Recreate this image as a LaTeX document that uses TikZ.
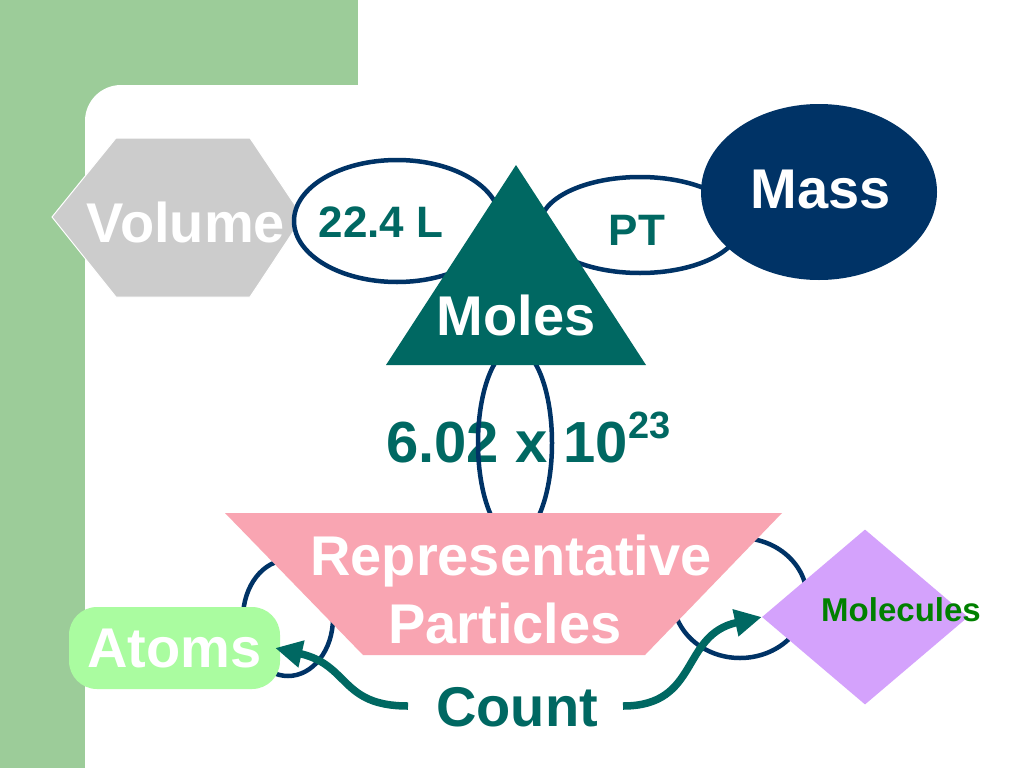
\documentclass[tikz,border=0pt]{standalone}
\usepackage{fontspec}
\setmainfont{Liberation Sans}
\usetikzlibrary{shapes.geometric,arrows.meta}
\definecolor{bggreen}{RGB}{156,204,153}
\definecolor{navyc}{RGB}{0,51,102}
\definecolor{tealc}{RGB}{0,104,98}
\definecolor{hexgray}{RGB}{204,204,204}
\definecolor{pinkc}{RGB}{249,165,178}
\definecolor{atomgreen}{RGB}{170,252,160}
\definecolor{lavc}{RGB}{212,162,252}
\definecolor{molgreen}{RGB}{0,128,0}
\begin{document}
\begin{tikzpicture}[x=1pt,y=-1pt,
  bigtext/.style={font=\fontsize{56}{67}\selectfont\bfseries, text=white, inner sep=0pt, align=center},
  midtext/.style={font=\fontsize{44}{50}\selectfont\bfseries, text=tealc, inner sep=0pt},
  ring/.style={ellipse, draw=navyc, line width=4.5pt, inner sep=0pt},
  flow/.style={draw=tealc, line width=7.5pt, -{Triangle[length=27pt,width=26pt]}}]
\useasboundingbox (0,0) rectangle (1024,768);
% background
\fill[white] (0,0) rectangle (1024,768);
\fill[bggreen] (0,0) rectangle (358,85);
\fill[bggreen] (0,0) rectangle (85,768);
\fill[bggreen] (85,85) rectangle (140,140);
\begin{scope}
  \clip (0,0) rectangle (1024,768);
  \fill[white, rounded corners=36pt] (85,85) rectangle (1100,850);
\end{scope}
% Volume hexagon
\fill[hexgray, draw=white, line width=1pt] (52,217) -- (116,138) -- (250,138) -- (303,217) -- (250,297) -- (116,297) -- cycle;
% connector rings (upper)
\node[ring, fill=white, minimum width=206pt, minimum height=122pt] (ringvol) at (397,221) {};
\node[ring, fill=white, minimum width=200pt, minimum height=96pt] (ringmass) at (640,225) {};
% Mass
\node[ellipse, fill=navyc, minimum width=236pt, minimum height=176pt, inner sep=0pt] (massshape) at (819,192) {};
% vertical ring with Avogadro number
\node[font=\fontsize{58}{60}\selectfont\bfseries, text=tealc, inner sep=0pt, anchor=base west] (avo) at (386,462) {6.02 x 10\raisebox{24pt}{\fontsize{38}{40}\selectfont 23}};
\node[ring, minimum width=74pt, minimum height=190pt] (ringrep) at (515,443) {};
% Moles triangle
\fill[tealc] (516,165) -- (646,365) -- (386,365) -- cycle;
% lower rings
\node[ring, minimum width=90pt, minimum height=116pt] (ringatoms) at (288,618) {};
\node[ring, minimum width=134pt, minimum height=120pt] (ringmol) at (740,598) {};
% Representative particles trapezoid
\fill[pinkc] (225,513) -- (782,513) -- (645,655) -- (363,655) -- cycle;
% Atoms
\node[fill=atomgreen, rounded corners=28pt, minimum width=211pt, minimum height=82pt, inner sep=0pt, bigtext] (atoms) at (174.5,648) {Atoms};
% Molecules diamond
\node[diamond, fill=lavc, minimum width=206pt, minimum height=175pt, inner sep=0pt] (molecules) at (865,617) {};
% texts
\node[bigtext, anchor=base] (voltext) at (186,242) {Volume};
\node[midtext, anchor=base] (vollabel) at (381,237) {22.4 L};
\node[midtext, anchor=base] (ptlabel) at (637,245) {PT};
\node[bigtext, anchor=base] (masstext) at (821,208) {Mass};
\node[bigtext, anchor=base] (molestext) at (516,335) {Moles};
\node[bigtext, anchor=base] (reptext) at (511,575) {Representative};
\node[bigtext, anchor=base] (parttext) at (505,643) {Particles};
\node[font=\fontsize{33}{36}\selectfont\bfseries, text=molgreen, inner sep=0pt, anchor=base] (moltext) at (901,621) {Molecules};
\node[font=\fontsize{56}{67}\selectfont\bfseries, text=tealc, inner sep=0pt, anchor=base] (count) at (517,726) {Count};
% arrows
\coordinate (cl) at (408,706);
\coordinate (cr) at (623,706);
\draw[flow] (cl) .. controls (340,706) and (350,665) .. ([xshift=-5pt]atoms.east);
\draw[flow] (cr) .. controls (700,706) and (680,635) .. (molecules.west);
\end{tikzpicture}
\end{document}
